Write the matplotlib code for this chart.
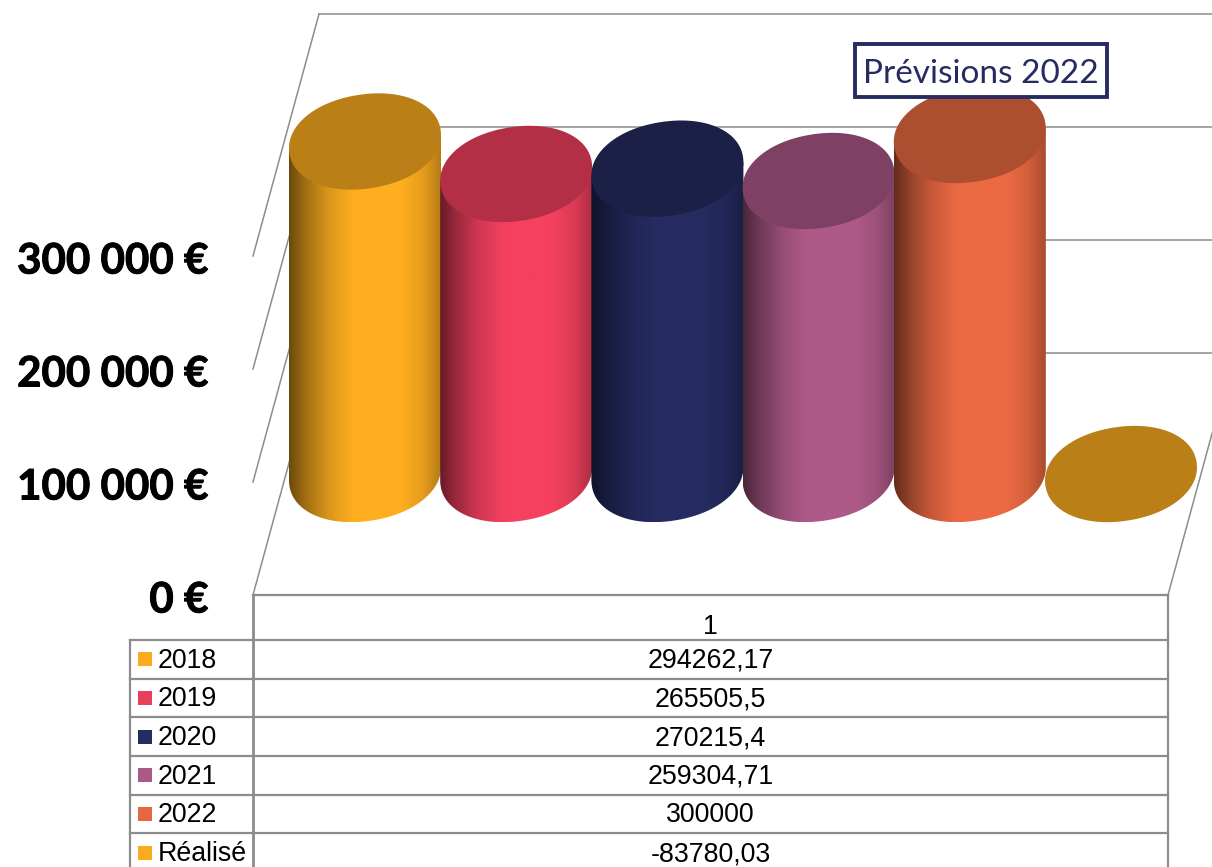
import numpy as np
import matplotlib
matplotlib.use('Agg')
from matplotlib import pyplot as plt
from matplotlib import patheffects, transforms
from matplotlib.patches import Polygon, Rectangle
from matplotlib.ticker import FuncFormatter

years = ['2018', '2019', '2020', '2021', '2022', 'Réalisé']
values = [294262.17, 265505.5, 270215.4, 259304.71, 300000, -83780.03]
colors = ['#FFAE1F', '#F5415F', '#262B61', '#AE5A88', '#EC6A43', '#FFAE1F']
top_colors = ['#BA8017', '#B22F45', '#1C2046', '#7F4163', '#AC4E30', '#BA8017']
legend_colors = ['#FBA91F', '#EA3F5C', '#262B61', '#AB5A87', '#E46742', '#FBA91F']
y_ticks = [0, 100000, 200000, 300000]
header = '1'
note = 'Prévisions 2022'

GREY = '#8C8C8C'
W, H = 1212, 867

# echelle : pixels de l'image -> unites de donnees
STEP = 151.2   # px entre deux cylindres
PX_EUR = 339 / 300000
FRONT_X = 332  # px de la categorie 0 sur le plan avant
FRONT_Y = 595  # px du 0 sur le plan avant
DEPTH_X = 66 / STEP
DEPTH_Y = 242 / PX_EUR


def dx(p):
    return p / STEP


def dv(p):
    return p / PX_EUR


def ellipse(i, v):
    # ellipse penchee a mi-profondeur (un peu bombee), en coordonnees de donnees
    t = np.linspace(0, 2 * np.pi, 241)
    a, b, th = 76.5, 47, np.radians(9)
    c = np.sign(np.cos(t)) * np.abs(np.cos(t)) ** 0.96
    s = np.sign(np.sin(t)) * np.abs(np.sin(t)) ** 0.96
    ex = a * c * np.cos(th) - b * s * np.sin(th)
    ey = a * c * np.sin(th) + b * s * np.cos(th)
    return i + DEPTH_X / 2 + dx(ex), v + DEPTH_Y / 2 + dv(ey)


fig = plt.figure(figsize=(W / 100, H / 100), dpi=100, facecolor='white')
ax = fig.add_axes([0, 0, 1, 1])
x_lim = (dx(0 - FRONT_X), dx(W - FRONT_X))
y_lim = (dv(FRONT_Y - H), dv(FRONT_Y))

# murs et grille
x_left, x_right = dx(253 - FRONT_X), dx(1168 - FRONT_X)
for v in y_ticks:
    ax.plot([x_left, x_left + DEPTH_X], [v, v + DEPTH_Y], color=GREY, lw=1.1)
    ax.plot([x_left + DEPTH_X, x_lim[1]], [v + DEPTH_Y, v + DEPTH_Y], color=GREY, lw=1.1)
ax.plot([x_left, x_right], [0, 0], color=GREY, lw=1.6)
ax.plot([x_right, x_right + DEPTH_X], [0, DEPTH_Y], color=GREY, lw=1.1)

# cylindres, de gauche a droite
shade_pos = [0, 0.10, 0.25, 0.42, 0.73, 0.88, 1]
shade_val = [0.42, 0.62, 0.85, 1, 1, 0.90, 0.70]
u = np.linspace(0, 1, 256)
shade = np.interp(u, shade_pos, shade_val)

for i, (v, c, tc) in enumerate(zip(values, colors, top_colors)):
    h = max(v, 0)
    z = 2 * (i + 1)
    if h > 0:
        bx, by = ellipse(i, 0)
        tx, ty = ellipse(i, h)
        l, r = np.argmin(bx), np.argmax(bx)
        # arc du bas entre l'extreme droit et l'extreme gauche
        idx = np.arange(l, r + 241) % 240
        idx = idx[:((r - l) % 240) + 1]
        poly = np.column_stack([
            np.r_[bx[idx], bx[r], bx[l]],
            np.r_[by[idx], ty[r], ty[l]],
        ])
        clip = Polygon(poly, closed=True, transform=ax.transData, fc='none', ec='none')
        ax.add_patch(clip)
        rgb = np.array(matplotlib.colors.to_rgb(c))
        img = (shade[:, None] * rgb)[None, :, :]
        im = ax.imshow(img, extent=(bx.min(), bx.max(), by.min(), ty.max()),
                       aspect='auto', origin='lower', zorder=z, interpolation='bilinear')
        im.set_clip_path(clip)
        ax.fill(tx, ty, color=tc, lw=0, zorder=z + 1)
    else:
        tx, ty = ellipse(i, 0)
        ax.fill(tx, ty, color=tc, lw=0, zorder=z + 1)

ax.set_xlim(x_lim)
ax.set_ylim(y_lim)
ax.set_xticks([])
ax.set_yticks(y_ticks)
ax.yaxis.set_major_formatter(FuncFormatter(lambda v, pos: f'{v:,.0f} €'.replace(',', ' ')))
ax.tick_params(axis='y', length=0, pad=-150, labelsize=30.3)
shift = transforms.ScaledTranslation(0, -2 / 100, fig.dpi_scale_trans)
for lab in ax.get_yticklabels():
    lab.set_fontfamily('Lato')
    lab.set_fontweight('bold')
    lab.set_color('black')
    lab.set_verticalalignment('center_baseline')
    lab.set_transform(lab.get_transform() + shift)
    lab.set_path_effects([patheffects.withStroke(linewidth=0.7, foreground='black')])
for s in ax.spines.values():
    s.set_visible(False)

# tableau et annotation, en pixels
ov = fig.add_axes([0, 0, 1, 1], facecolor='none')
ov.set_xlim(0, W)
ov.set_ylim(H, 0)
ov.axis('off')

row_top = 640
row_h = 38.65
ov.plot([253, 253], [595, H], color=GREY, lw=2)
ov.plot([1168, 1168], [595, H], color=GREY, lw=1.6)
ov.plot([130, 130], [row_top, H], color=GREY, lw=1.6)
for k in range(len(years) + 1):
    y = row_top + k * row_h
    ov.plot([130, 1168], [y, y], color=GREY, lw=1.6)
ov.text(710.5, 627, header, fontsize=19.3, family='Liberation Sans', ha='center', va='center')
for k, (name, v, c) in enumerate(zip(years, values, legend_colors)):
    y = row_top + (k + 0.5) * row_h
    ov.add_patch(Rectangle((138, y - 7), 14, 14, fc=c, ec='none'))
    ov.text(158, y + 1.5, name, fontsize=19.3, family='Liberation Sans', ha='left', va='center')
    ov.text(710.5, y + 1.5, str(v).replace('.', ','), fontsize=19.3,
            family='Liberation Sans', ha='center', va='center')

ov.add_patch(Rectangle((854.7, 43.5), 252.3, 53.5, fc='white', ec='#262B61', lw=2.8, zorder=5))
ov.text(981, 74, note, fontsize=24, family='Lato', color='#262B61',
        ha='center', va='center', zorder=6)

fig.savefig('out.png', dpi=100)
